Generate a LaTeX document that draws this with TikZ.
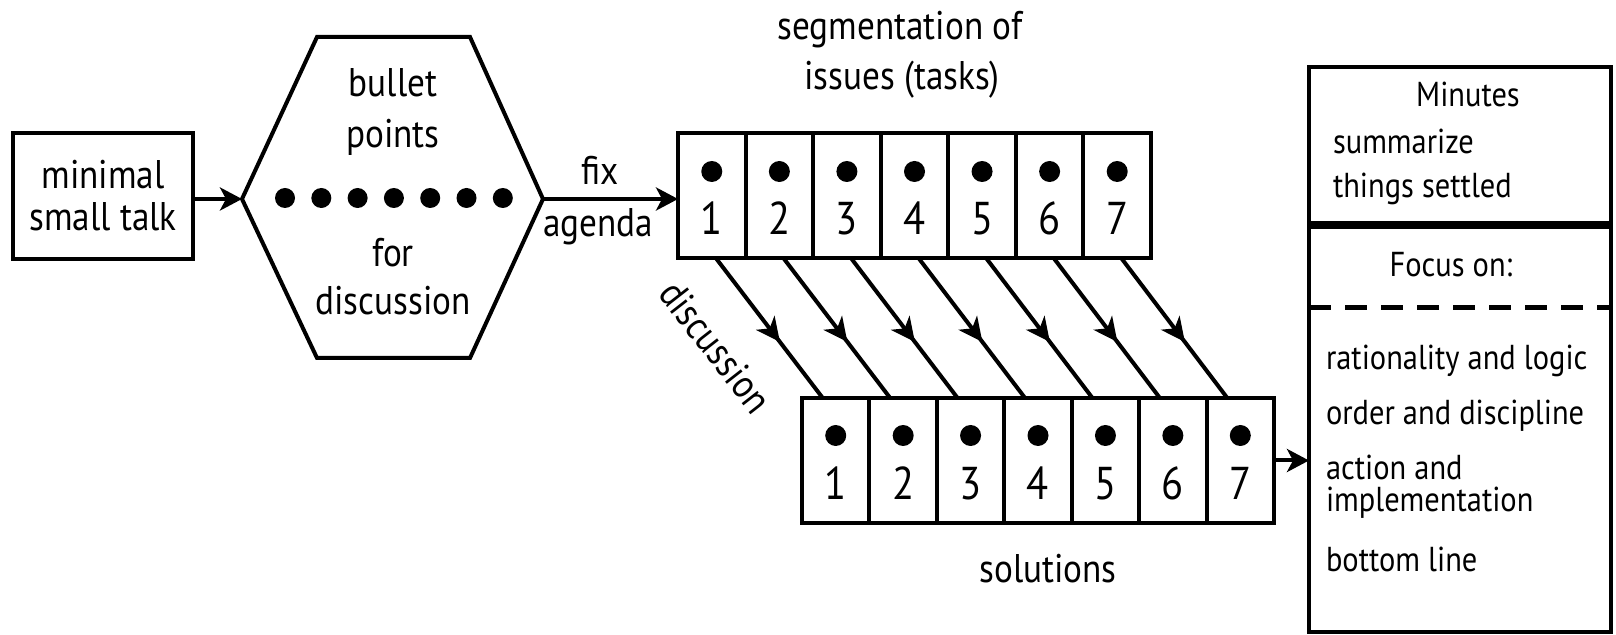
\documentclass[tikz,border=0pt]{standalone}
\usepackage{fontspec}
\setmainfont{PT Sans}[FakeStretch=0.88]
\usetikzlibrary{arrows.meta,decorations.markings,calc}

\begin{document}
\begin{tikzpicture}[x=0.5pt,y=-0.5pt,
  every node/.style={inner sep=0pt, outer sep=0pt},
  txt/.style={font=\fontsize{20}{21}\selectfont},
  lbl/.style={txt, anchor=base},
  note/.style={font=\fontsize{17.3}{18}\selectfont, anchor=base},
  notew/.style={note, anchor=base west},
  num/.style={font=\fontsize{23}{23}\selectfont, anchor=base},
  box/.style={draw, line width=2pt, rectangle},
  cell/.style={box, minimum width=33.75pt, minimum height=62.5pt},
  conn/.style={line width=2pt, -{Stealth[length=11pt, width=11.5pt, inset=3pt]}},
  flow/.style={line width=2pt,
    decoration={markings, mark=at position 0.6 with {\arrow{Stealth[length=12pt, width=11.5pt, inset=3.5pt]}}},
    postaction=decorate},
  divider/.style={line width=2.5pt, dash pattern=on 11pt off 7pt},
]
\useasboundingbox (0,0) rectangle (1616,635);
\fill[white] (0,0) rectangle (1616,635);

% opening small talk
\node[box, txt, align=center, minimum width=90pt, minimum height=63pt] (talk) at (103,196) {minimal\\small talk};

% hexagon of bullet points
\coordinate (hL)  at (242,199);
\coordinate (hTL) at (317,37);
\coordinate (hTR) at (470,37);
\coordinate (hR)  at (543,199);
\coordinate (hBR) at (470,358);
\coordinate (hBL) at (317,358);
\draw[line width=2pt] (hL) -- (hTL) -- (hTR) -- (hR) -- (hBR) -- (hBL) -- cycle;
\node[lbl] (bul1) at (393,97)  {bullet};
\node[lbl] (bul2) at (393,148) {points};
\foreach \k in {0,...,6} \fill (285+36.3*\k,198) circle[radius=5pt];
\node[lbl] (bul3) at (393,267) {for};
\node[lbl] (bul4) at (393,315) {discussion};

% issues row
\node[lbl] (seg1) at (900,40) {segmentation of};
\node[lbl] (seg2) at (902,90) {issues (tasks)};
\foreach \i in {1,...,7} {
  \node[cell] (t\i) at ({678+67.57*(\i-0.5)},195.5) {};
  \fill ($(t\i.center)+(0,-24)$) circle[radius=5.25pt];
  \node[num] (tn\i) at ($(t\i.center)+(0,39.5)$) {\i};
}

% solutions row
\foreach \i in {1,...,7} {
  \node[cell] (b\i) at ({802+67.43*(\i-0.5)},460.5) {};
  \fill ($(b\i.center)+(0,-25)$) circle[radius=5.25pt];
  \node[num] (bn\i) at ($(b\i.center)+(0,39.5)$) {\i};
}
\node[lbl] (sol) at (1048,582) {solutions};

% discussion of each issue
\foreach \i in {1,...,7}
  \draw[flow] ($(t\i.south)+(4,0)$) -- ($(b\i.north)+(-13,0)$);
\node[txt, rotate=-52] (disc) at (716,347) {discussion};

% minutes box
\node[box, minimum width=151pt, minimum height=78pt, anchor=north west] (minutes) at (1309,67) {};
\node[box, minimum width=151pt, minimum height=202.5pt, anchor=north west] (focus) at (1309,227) {};
\draw[divider] ($(focus.north west)+(0,81)$) -- ($(focus.north east)+(0,81)$);
\node[note]  (m1) at (1468,107) {Minutes};
\node[notew] (m2) at (1333,154) {summarize};
\node[notew] (m3) at (1333,198) {things settled};
\node[note]  (f0) at (1451,277) {Focus on:};
\node[notew] (f1) at (1326,370) {rationality and logic};
\node[notew] (f2) at (1326,425) {order and discipline};
\node[notew] (f3) at (1326,480) {action and};
\node[notew] (f4) at (1326,512) {implementation};
\node[notew] (f5) at (1326,572) {bottom line};

% connectors
\draw[conn] (talk.east |- hL) -- (hL);
\draw[conn] (hR) -- (hR -| t1.west);
\node[lbl] (fix1) at (600,185) {fix};
\node[lbl] (fix2) at (598,237) {agenda};
\draw[conn] (b7.east) -- (b7.east -| focus.west);
\end{tikzpicture}
\end{document}
